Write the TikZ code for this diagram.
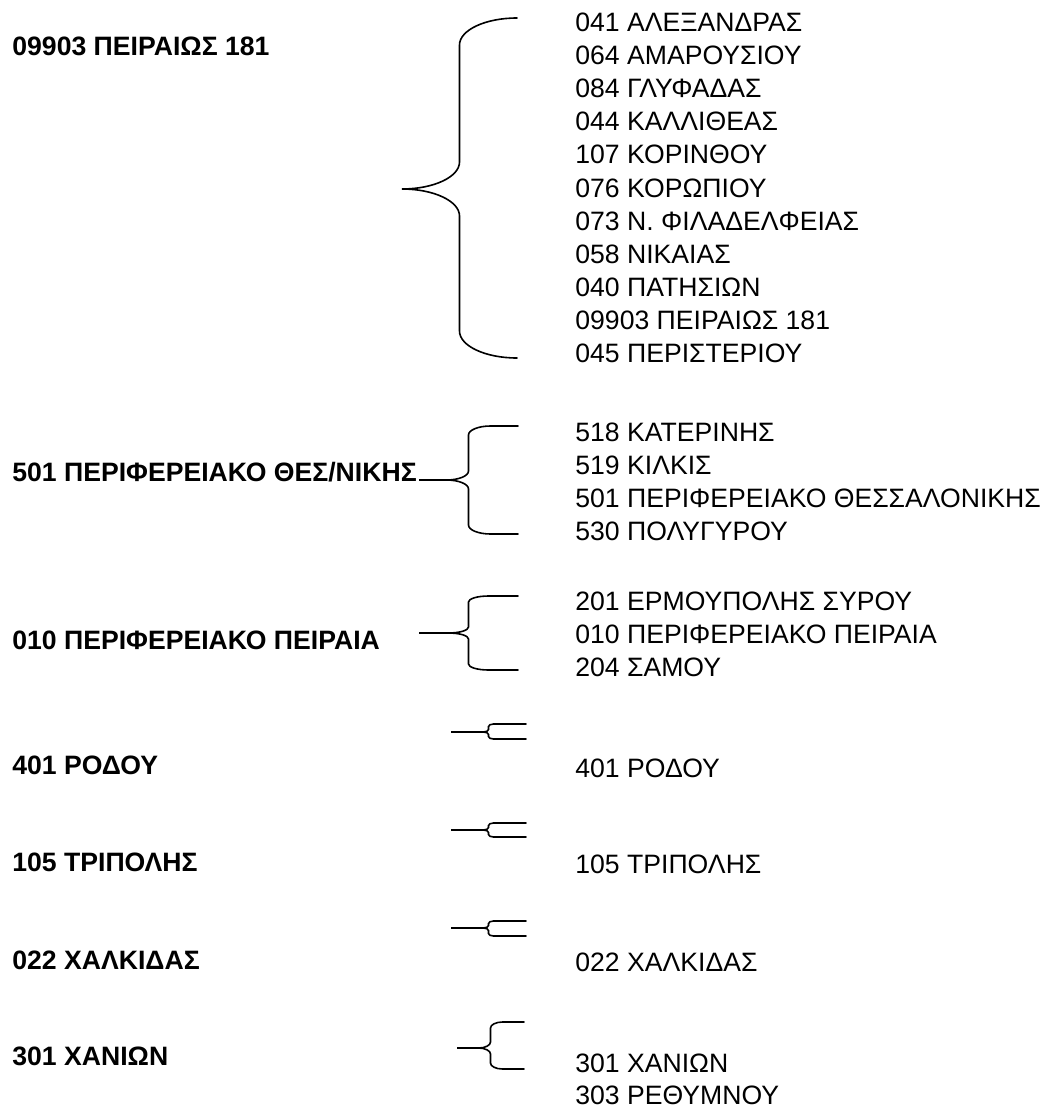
\documentclass[tikz,border=0pt]{standalone}
\usepackage{fontspec}
\setmainfont{Liberation Sans}

% curly brace: tip x, tip y, end x, top y, bottom y, radius y, radius x
\newcommand{\grpbrace}[7]{%
  \pgfmathsetmacro\bxv{(#1+#3)/2}%
  \pgfmathsetmacro\bka{0.552*#7}%
  \pgfmathsetmacro\bkr{0.552*#6}%
  \draw[bracestyle] (#3,#4) -- (\bxv+#7,#4)
    .. controls (\bxv+#7-\bka,#4) and (\bxv,#4+#6-\bkr) .. (\bxv,#4+#6)
    -- (\bxv,#2-#6)
    .. controls (\bxv,#2-#6+\bkr) and (\bxv-#7+\bka,#2) .. (\bxv-#7,#2)
    -- (#1,#2) -- (\bxv-#7,#2)
    .. controls (\bxv-#7+\bka,#2) and (\bxv,#2+#6-\bkr) .. (\bxv,#2+#6)
    -- (\bxv,#5-#6)
    .. controls (\bxv,#5-#6+\bkr) and (\bxv+#7-\bka,#5) .. (\bxv+#7,#5)
    -- (#3,#5);}

\begin{document}
\begin{tikzpicture}[x=0.5pt,y=-0.5pt,
  office/.style={anchor=base west,inner sep=0pt,
    font=\fontsize{13.3}{16}\selectfont},
  head/.style={office,font=\fontsize{13.3}{16}\selectfont\bfseries},
  bracestyle/.style={black,line width=0.8pt,line cap=round}]
  % page coordinates in pixels, y pointing down
  \useasboundingbox (0,0) rectangle (1046,1108);

  % merged offices (left)
  \node[head] (g1) at (12,55) {09903 ΠΕΙΡΑΙΩΣ 181};
  \node[head] (g2) at (12,481) {501 ΠΕΡΙΦΕΡΕΙΑΚΟ ΘΕΣ/ΝΙΚΗΣ};
  \node[head] (g3) at (12,649) {010 ΠΕΡΙΦΕΡΕΙΑΚΟ ΠΕΙΡΑΙΑ};
  \node[head] (g4) at (12,774) {401 ΡΟΔΟΥ};
  \node[head] (g5) at (12,871) {105 ΤΡΙΠΟΛΗΣ};
  \node[head] (g6) at (12,969) {022 ΧΑΛΚΙΔΑΣ};
  \node[head] (g7) at (12,1065) {301 ΧΑΝΙΩΝ};

  % offices of each group (right)
  \foreach \name [count=\i from 0] in {041 ΑΛΕΞΑΝΔΡΑΣ,064 ΑΜΑΡΟΥΣΙΟΥ,
      084 ΓΛΥΦΑΔΑΣ,044 ΚΑΛΛΙΘΕΑΣ,107 ΚΟΡΙΝΘΟΥ,076 ΚΟΡΩΠΙΟΥ,
      073 Ν. ΦΙΛΑΔΕΛΦΕΙΑΣ,058 ΝΙΚΑΙΑΣ,040 ΠΑΤΗΣΙΩΝ,
      09903 ΠΕΙΡΑΙΩΣ 181,045 ΠΕΡΙΣΤΕΡΙΟΥ}
    \node[office] (g1i\i) at (575,{31.5+33.1*\i}) {\name};
  \foreach \name [count=\i from 0] in {518 ΚΑΤΕΡΙΝΗΣ,519 ΚΙΛΚΙΣ,
      501 ΠΕΡΙΦΕΡΕΙΑΚΟ ΘΕΣΣΑΛΟΝΙΚΗΣ,530 ΠΟΛΥΓΥΡΟΥ}
    \node[office] (g2i\i) at (575,{441+33*\i}) {\name};
  \foreach \name [count=\i from 0] in {201 ΕΡΜΟΥΠΟΛΗΣ ΣΥΡΟΥ,
      010 ΠΕΡΙΦΕΡΕΙΑΚΟ ΠΕΙΡΑΙΑ,204 ΣΑΜΟΥ}
    \node[office] (g3i\i) at (575,{610+33*\i}) {\name};
  \node[office] (g4i0) at (575,777) {401 ΡΟΔΟΥ};
  \node[office] (g5i0) at (575,873) {105 ΤΡΙΠΟΛΗΣ};
  \node[office] (g6i0) at (575,971) {022 ΧΑΛΚΙΔΑΣ};
  \node[office] (g7i0) at (575,1072) {301 ΧΑΝΙΩΝ};
  \node[office] (g7i1) at (575,1104) {303 ΡΕΘΥΜΝΟΥ};

  % braces
  \grpbrace{402}{189}{517}{18}{358}{27}{57.5}
  \grpbrace{419}{480}{518}{426}{534}{9}{22}
  \grpbrace{419}{633}{518}{596}{670}{6}{20}
  \grpbrace{451}{732}{526}{724}{739}{2.5}{5}
  \grpbrace{451}{830}{526}{823}{837}{2.5}{5}
  \grpbrace{451}{928}{526}{921}{936}{2.5}{5}
  \grpbrace{457}{1048}{524}{1022}{1069}{6}{12}
\end{tikzpicture}
\end{document}
